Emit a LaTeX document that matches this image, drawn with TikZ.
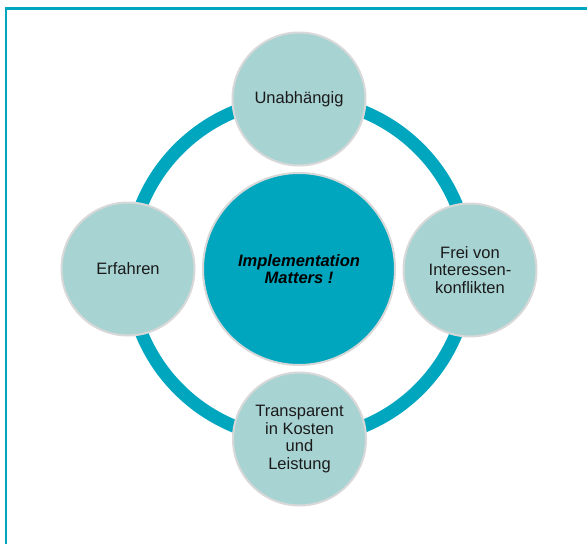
\documentclass[tikz,border=0pt]{standalone}
\usepackage{fontspec}
\setmainfont{Liberation Sans}
\definecolor{teal1}{HTML}{00A6BE}
\definecolor{sat}{HTML}{A8D3D3}
\definecolor{rim}{HTML}{D8D8D8}
\definecolor{txt}{HTML}{1A1A1A}
\begin{document}
\begin{tikzpicture}[x=1pt,y=-1pt,
  sattext/.style={circle,minimum size=133pt,inner sep=0pt,fill=sat,draw=rim,line width=2pt,
    text=txt,align=center,font=\fontsize{16.5}{17.7}\selectfont},
  hub/.style={circle,minimum size=192pt,inner sep=0pt,fill=teal1,draw=rim,line width=2pt,
    text=black,align=center,font=\fontsize{16.5}{16.5}\selectfont\bfseries\itshape},
  frameline/.style={draw=teal1,line width=2.5pt}]
\useasboundingbox (0,0) rectangle (587,544);
\coordinate (fTR) at (587,8.5);
\coordinate (fTL) at (6,8.5);
\coordinate (fBL) at (6,544);
\draw[frameline] (fTR) -- (fTL) -- (fBL);
\coordinate (c) at (299,269);
\draw[teal1,line width=13pt] (c) circle[radius=170];
\node[hub] (hub) at (c) {Implementation\\Matters !};
\node[sattext] (top) at (299,99) {Unabhängig};
\node[sattext] (left) at (128,269) {Erfahren};
\node[sattext] (right) at (470,270) {Frei von\\Interessen-\\konflikten};
\node[sattext] (bottom) at (299.5,439) {Transparent\\in Kosten\\und\\Leistung};
\end{tikzpicture}
\end{document}
